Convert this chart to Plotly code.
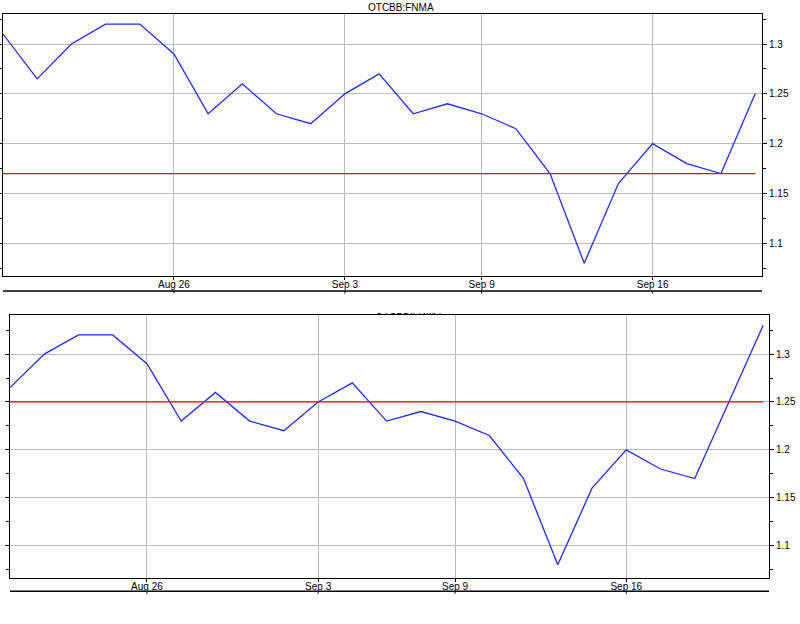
import plotly.graph_objects as go

# ---- data -------------------------------------------------------------
dates = ["2013-08-19", "2013-08-20", "2013-08-21", "2013-08-22", "2013-08-23",
         "2013-08-26", "2013-08-27", "2013-08-28", "2013-08-29", "2013-08-30",
         "2013-09-03", "2013-09-04", "2013-09-05", "2013-09-06",
         "2013-09-09", "2013-09-10", "2013-09-11", "2013-09-12", "2013-09-13",
         "2013-09-16", "2013-09-17", "2013-09-18", "2013-09-19", "2013-09-20"]
close = [1.31, 1.265, 1.30, 1.32, 1.32,
         1.29, 1.23, 1.26, 1.23, 1.22,
         1.25, 1.27, 1.23, 1.24,
         1.23, 1.215, 1.17, 1.08, 1.16,
         1.20, 1.18, 1.17, 1.25, 1.33]
title_text = "OTCBB:FNMA"
ref_top = 1.17
ref_bottom = 1.25
tick_dates = ["2013-08-26", "2013-09-03", "2013-09-09", "2013-09-16"]
tick_labels = ["Aug 26", "Sep 3", "Sep 9", "Sep 16"]

top_dates, top_vals = dates[0:23], close[0:23]
bot_dates, bot_vals = dates[1:24], close[1:24]

W, H = 800, 624
FONT = "Liberation Sans, Arial, sans-serif"
GRID = "#b4bcbc"


def px_x(a, b):
    return [a / W, b / W]


def px_y(top, bottom):
    return [1 - bottom / H, 1 - top / H]


fig = go.Figure()

panels = [
    dict(xa="x", ya="y", d=top_dates, v=top_vals, ref=ref_top),
    dict(xa="x2", ya="y2", d=bot_dates, v=bot_vals, ref=ref_bottom),
]
for p in panels:
    idx = list(range(len(p["d"])))
    fig.add_trace(go.Scatter(x=idx, y=p["v"], mode="lines",
                             line=dict(color="#1f2bff", width=1.3),
                             xaxis=p["xa"], yaxis=p["ya"], hoverinfo="skip",
                             showlegend=False))
    fig.add_trace(go.Scatter(x=[idx[0], idx[-1]], y=[p["ref"], p["ref"]], mode="lines",
                             line=dict(color="#ff0000", width=1.2),
                             xaxis=p["xa"], yaxis=p["ya"], hoverinfo="skip",
                             showlegend=False))

# clipped title of lower panel (only its bottom edge shows)
fig.add_trace(go.Scatter(x=[408], y=[311.5], mode="text", text=[title_text],
                         textposition="middle center",
                         textfont=dict(family=FONT, size=10, color="#000000"),
                         xaxis="x3", yaxis="y3", hoverinfo="skip",
                         showlegend=False, cliponaxis=True))


def xaxis_cfg(domain, d, rng, anchor):
    tv = [d.index(t) for t in tick_dates]
    return dict(domain=domain, range=rng, anchor=anchor, automargin=False,
                tickvals=tv, ticktext=tick_labels,
                showgrid=True, gridcolor=GRID, gridwidth=1,
                showline=True, linecolor="black", linewidth=1, mirror=True,
                ticks="outside", ticklen=3, tickcolor="black",
                ticklabelstandoff=-4,
                tickfont=dict(family=FONT, size=10, color="black"),
                zeroline=False, fixedrange=True)


def yaxis_cfg(domain, rng, anchor):
    return dict(domain=domain, range=rng, anchor=anchor, side="right", automargin=False,
                dtick=0.05, tick0=0,
                showgrid=True, gridcolor=GRID, gridwidth=1,
                showline=True, linecolor="black", linewidth=1, mirror="ticks",
                ticks="outside", ticklen=4, tickcolor="black",
                minor=dict(dtick=0.025, ticks="outside", ticklen=3,
                           tickcolor="black", showgrid=False),
                tickfont=dict(family=FONT, size=10, color="black"),
                zeroline=False, fixedrange=True)


top_x_dom = px_x(3, 762)
top_y_dom = px_y(14, 276)
bot_x_dom = px_x(10, 769)
bot_y_dom = px_y(315, 578)

fig.update_layout(
    width=W, height=H,
    margin=dict(l=0, r=0, t=0, b=0, autoexpand=False),
    paper_bgcolor="white", plot_bgcolor="white",
    showlegend=False,
    xaxis=xaxis_cfg(top_x_dom, top_dates, [0, 22.2], "y"),
    yaxis=yaxis_cfg(top_y_dom, [1.0672, 1.3301], "x"),
    xaxis2=xaxis_cfg(bot_x_dom, bot_dates, [0, 22.17], "y2"),
    yaxis2=yaxis_cfg(bot_y_dom, [1.0662, 1.3408], "x2"),
    xaxis3=dict(domain=[0, 1], range=[0, W], anchor="y3", visible=False,
                fixedrange=True, automargin=False),
    yaxis3=dict(domain=px_y(313, 315), range=[315, 313], anchor="x3", visible=False,
                fixedrange=True, automargin=False),
    annotations=[dict(text=title_text, x=401 / W, y=1 - 8 / H, xref="paper", yref="paper",
                      xanchor="center", yanchor="middle", showarrow=False,
                      font=dict(family=FONT, size=10, color="black"))],
)

shapes = []
for xa, ya, d, off in [("x", "y", top_dates, -15 / 262), ("x2", "y2", bot_dates, -13.3 / 263)]:
    shapes.append(dict(type="line", xref=xa + " domain", yref=ya + " domain",
                       x0=0, x1=1, y0=off, y1=off,
                       line=dict(color="black", width=1.5)))
    for t in tick_dates:
        i = d.index(t)
        shapes.append(dict(type="line", xref=xa, yref=ya + " domain",
                           x0=i, x1=i, y0=off, y1=off - 2.5 / 262,
                           line=dict(color="black", width=1)))
fig.update_layout(shapes=shapes)

fig.write_html("out.html",
               config={"displayModeBar": False, "staticPlot": True},
               post_script="document.body.style.margin='0';document.body.style.overflow='hidden';")
